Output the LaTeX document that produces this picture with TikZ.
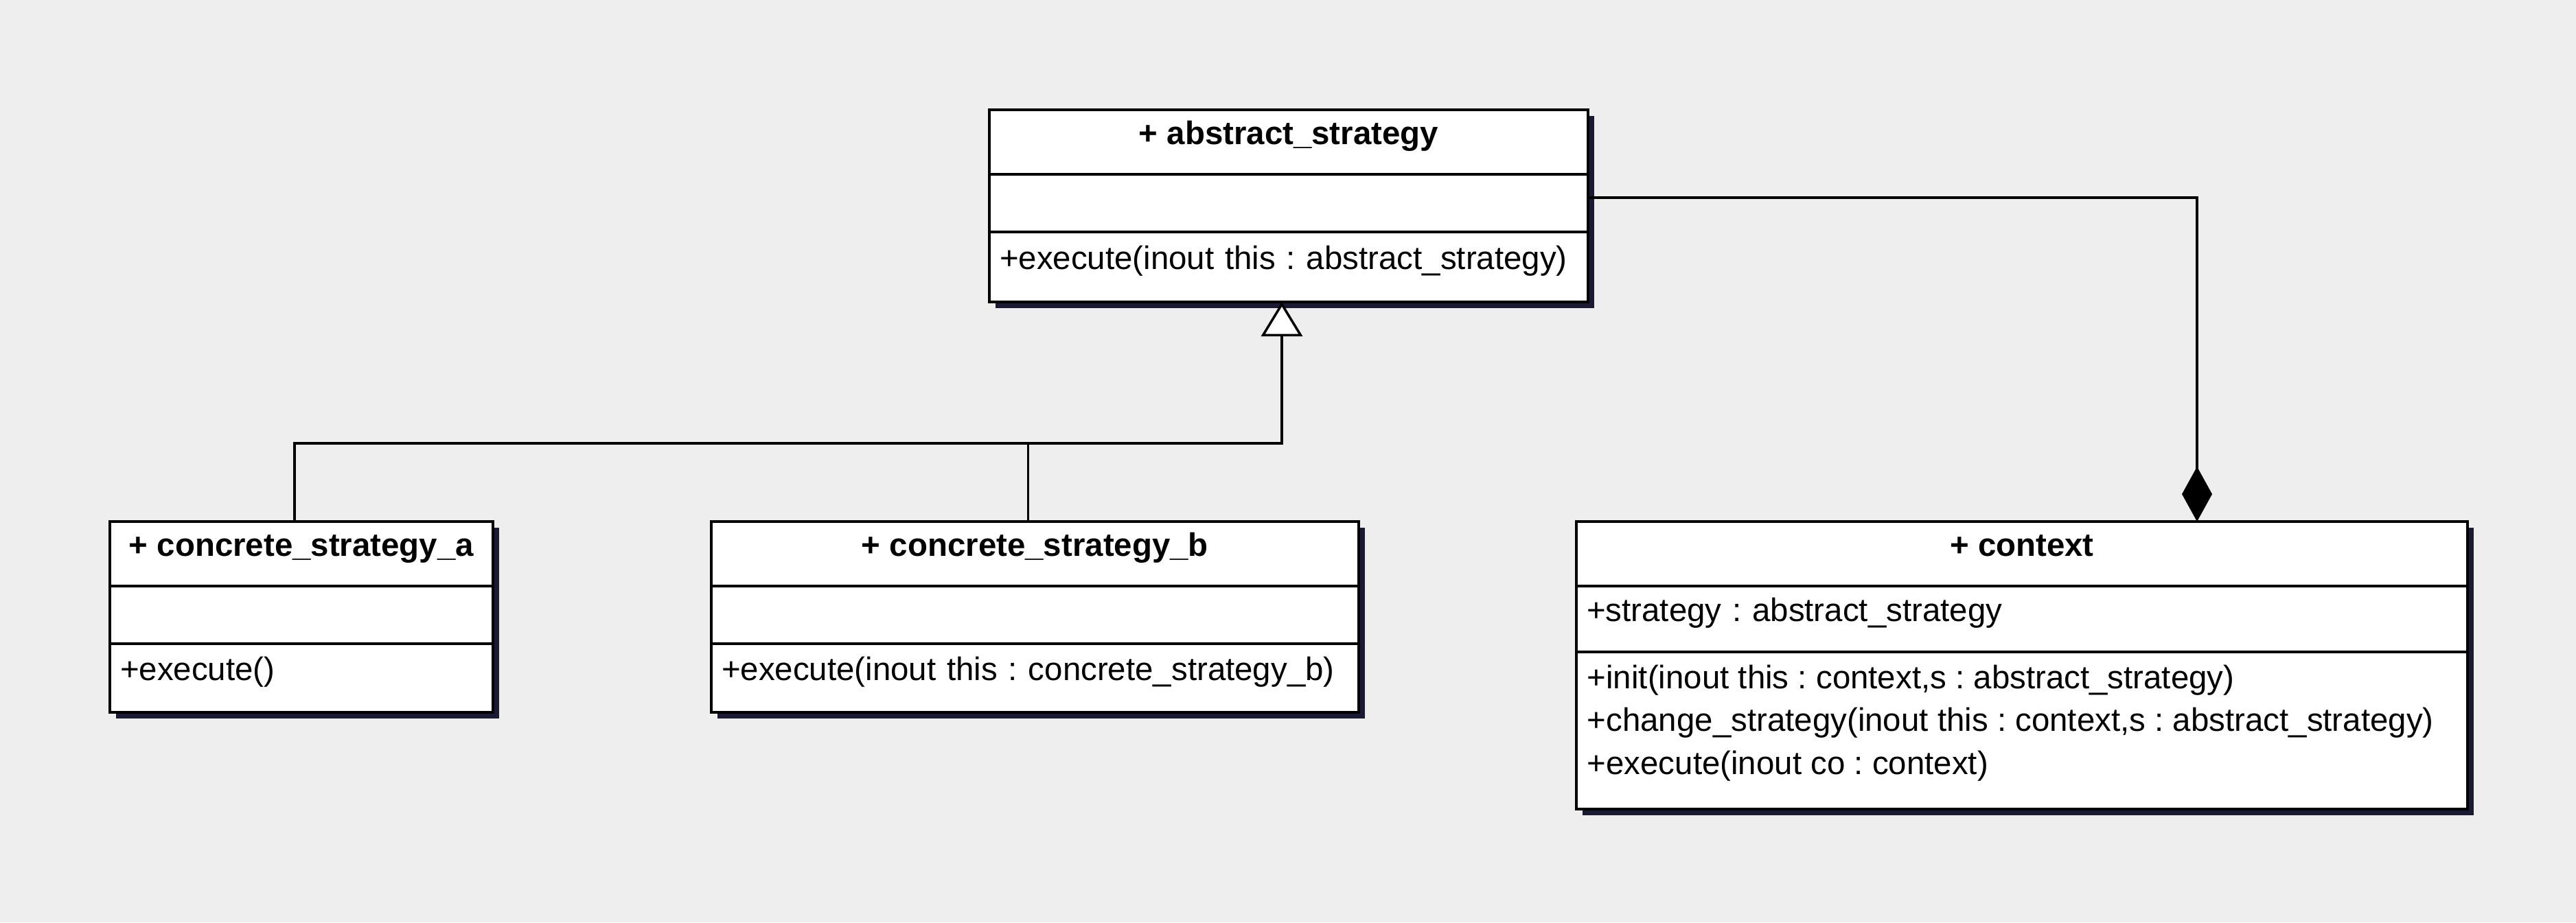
\documentclass[tikz,border=0pt]{standalone}
\usepackage{fontspec}
\setmainfont{Liberation Sans}
\usetikzlibrary{arrows.meta}
\usetikzlibrary{positioning}
\usetikzlibrary{shadows}
\definecolor{bggray}{HTML}{EEEEEE}
\definecolor{shadowblue}{HTML}{1A1A33}
\frenchspacing
\tikzset{%
    classbox/.style={rectangle, draw, fill=white, line width=0.35mm,
        inner xsep=1.5mm, inner ysep=0pt, outer sep=0pt,
        text height=3.5mm, text depth=2.9mm,
        font=\fontsize{13.5}{16}\selectfont,
        drop shadow={shadow xshift=0.9mm, shadow yshift=-0.9mm, fill=shadowblue, opacity=1}},
    classname/.style={classbox, minimum width=#1, minimum height=9.4mm,
        font=\fontsize{13.5}{16}\selectfont\bfseries},
    classattr/.style={classbox, minimum width=#1},
    classops/.style={classbox, align=left, text width=#1},
    opline/.style={anchor=base west, inner sep=0pt, font=\fontsize{13.5}{16}\selectfont},
    inherit/.style={line width=0.35mm, -{Triangle[length=5mm, width=6mm, fill=white]}},
    compose/.style={line width=0.35mm, -{Diamond[length=8mm, width=4.4mm]}},
}

\begin{document}
\begin{tikzpicture}
\fill[bggray] (0,0) rectangle (37.52,-13.44);
\useasboundingbox (0,0) rectangle (37.52,-13.44);
% abstract strategy
\node[classname=87.2mm, anchor=north west] (abs) at (14.41,-1.60) {+ abstract\_strategy};
\node[classattr=87.2mm, minimum height=8.4mm, below=0pt of abs] (absA) {};
\node[classops=84.2mm, minimum height=10.2mm, below=0pt of absA] (absM) {+execute(inout this : abstract\_strategy)};
% concrete strategies
\node[classname=55.8mm, anchor=north west] (ca) at (1.60,-7.60) {+ concrete\_strategy\_a};
\node[classattr=55.8mm, minimum height=8.4mm, below=0pt of ca] (caA) {};
\node[classops=52.8mm, minimum height=10mm, below=0pt of caA] (caM) {+execute()};
\node[classname=94.3mm, anchor=north west] (cb) at (10.36,-7.60) {+ concrete\_strategy\_b};
\node[classattr=94.3mm, minimum height=8.4mm, below=0pt of cb] (cbA) {};
\node[classops=91.3mm, minimum height=10mm, below=0pt of cbA] (cbM) {+execute(inout this : concrete\_strategy\_b)};
% context
\node[classname=129.8mm, anchor=north west] (ctx) at (22.96,-7.60) {+ context};
\node[classops=126.8mm, minimum height=9.6mm, below=0pt of ctx] (ctxA) {+strategy : abstract\_strategy};
\node[classattr=129.8mm, minimum height=22.9mm, below=0pt of ctxA] (ctxM) {};
\foreach \op [count=\i] in {{+init(inout this : context,s : abstract\_strategy)},
    {+change\_strategy(inout this : context,s : abstract\_strategy)},
    {+execute(inout co : context)}}
  \node[opline] (ctxM\i) at ([xshift=1.5mm, yshift={-5.3mm-(\i-1)*6.25mm}]ctxM.north west) {\op};

% connectors
\coordinate (bus) at ([xshift=-1mm, yshift=11.4mm]cb.north);
\coordinate (hook) at ([xshift=90.4mm]ctx.north west);
\draw[inherit] ([xshift=-1mm]ca.north) |- (bus) -| ([xshift=-1mm]absM.south);
\draw[line width=0.35mm] ([xshift=-1mm]cb.north) -- (bus);
\draw[compose] ([yshift=0.8mm]absA.east) -| (hook);
\end{tikzpicture}
\end{document}
